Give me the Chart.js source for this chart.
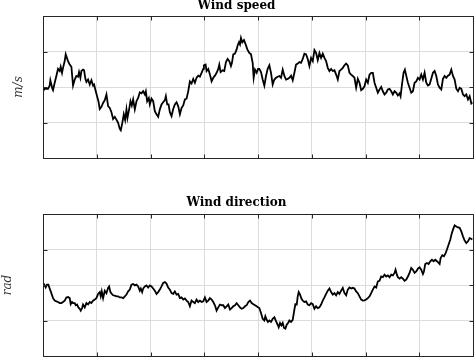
<!DOCTYPE html>
<html><head><meta charset="utf-8">
<script src="https://cdn.jsdelivr.net/npm/chart.js@4"></script>
<style>
html,body{margin:0;padding:0;background:#fff;width:474px;height:357px;overflow:hidden;position:relative}
#w1{position:absolute;left:0;top:-4px;width:474px;height:182px}
#w2{position:absolute;left:0;top:178px;width:474px;height:179px}
canvas{display:block}
</style></head><body>
<div id="w1"><canvas id="c1" width="474" height="182"></canvas></div>
<div id="w2"><canvas id="c2" width="474" height="179"></canvas></div>
<script>
// ---- Wind speed (m/s) ----
const speedTime = [
  0,5,15,20,22,28,30,35,40,45,
  50,53,57,60,65,68,75,80,85,90,
  95,100,105,108,112,115,120,123,127,130,
  135,140,145,150,153,158,162,166,170,175,
  180,185,190,195,200,205,210,215,220,225,
  230,233,238,242,246,250,253,258,262,266,
  270,275,280,285,290,295,300,305,308,312,
  317,320,325,330,335,340,345,350,355,360,
  365,368,372,376,380,385,390,395,400,405,
  410,415,420,425,430,435,440,445,450,455,
  460,465,470,475,480,482,487,490,495,500,
  505,510,515,520,525,528,532,538,543,548,
  553,558,563,566,570,575,580,583,587,590,
  593,597,602,607,612,618,623,628,631,635,
  640,644,
  648,653,658,663,668,673,678,683,688,693,
  698,703,708,713,718,723,728,733,738,743,
  748,753,758,763,768,773,778,783,788,793,
  798,803,808,813,818,823,828,833,838,843,
  848,853,858,863,868,873,878,883,888,893,
  898,903,908,913,918,923,928,933,938,943,
  948,953,958,963,968,973,978,983,988,993,
  998,1003,1008,1013,1018,1023,1028,1033,1038,1043,
  1048,1053,1058,1063,1068,1071,1076,1080,1084,1088,
  1093,1098,1103,1108,1113,1118,1123,1128,1133,1138,
  1143,1148,1153,1158,1163,1168,1173,1178,1183,1188,
  1193,1198,1203,1208,1213,1218,1223,1228,1233,1238,
  1243,1248,1253,1258,1263,1268,1273,1278,1283,1286
];
const speedValues = [
  1.88,1.95,1.95,2.04,2.19,1.95,1.91,2.12,2.31,2.51,
  2.45,2.57,2.40,2.54,2.73,2.92,2.73,2.63,2.57,2.04,
  2.21,2.31,2.29,2.42,2.26,2.45,2.49,2.47,2.23,2.14,
  2.21,2.07,2.19,2.04,2.07,1.88,1.74,1.60,1.38,1.44,
  1.55,1.63,1.79,1.46,1.41,1.29,1.10,1.16,1.08,0.99,
  0.82,0.78,1.01,1.23,1.07,1.37,1.13,1.37,1.60,1.48,
  1.65,1.37,1.60,1.69,1.85,1.82,1.88,1.79,1.88,1.60,
  1.69,1.51,1.67,1.60,1.32,1.23,1.16,1.37,1.51,1.57,
  1.63,1.74,1.51,1.51,1.29,1.18,1.38,1.51,1.57,1.46,
  1.23,1.41,1.48,1.65,1.67,1.88,2.16,2.10,2.23,2.12,
  2.26,2.32,2.29,2.40,2.51,2.61,2.63,2.45,2.51,2.35,
  2.16,2.26,2.32,2.40,2.51,2.63,2.42,2.47,2.45,2.70,
  2.79,2.73,2.59,2.68,2.92,2.94,3.06,3.17,3.26,3.20,
  3.38,3.26,3.32,3.20,3.06,2.96,2.92,2.68,2.26,2.49,
  2.40,2.51,
  2.51,2.42,2.21,2.04,2.31,2.51,2.61,2.40,2.07,2.21,
  2.26,2.29,2.31,2.26,2.49,2.31,2.21,2.23,2.26,2.32,
  2.19,2.40,2.63,2.66,2.70,2.68,2.79,2.94,2.92,2.79,
  2.59,2.82,2.73,3.04,2.96,2.76,2.96,2.82,2.94,2.82,
  2.73,2.54,2.45,2.51,2.45,2.47,2.35,2.21,2.45,2.49,
  2.54,2.61,2.66,2.61,2.40,2.35,2.31,2.26,1.98,2.23,
  2.12,1.91,1.95,2.02,2.21,2.12,2.35,2.40,2.40,2.12,
  1.98,1.84,1.93,2.00,1.88,1.79,1.84,1.93,1.95,1.88,
  1.79,1.88,1.84,1.76,1.82,1.74,2.12,2.40,2.49,2.32,
  2.12,1.98,1.84,1.88,2.12,2.16,2.26,2.21,2.35,2.21,
  2.40,2.12,2.04,2.07,2.23,2.40,2.45,2.31,2.07,1.98,
  1.93,2.23,2.31,2.26,2.32,2.35,2.49,2.31,2.21,1.95,
  1.88,1.98,1.95,1.79,1.74,1.79,1.65,1.74,1.54,1.57
];
// ---- Wind direction (rad) ----
const dirTime = [
  0,4,8,12,16,20,25,30,35,40,
  45,50,55,60,65,70,75,80,83,87,
  90,95,98,102,106,110,113,117,120,125,
  130,135,140,145,150,155,160,165,170,173,
  176,180,185,190,195,198,202,206,210,215,
  220,225,230,235,240,245,250,255,260,265,
  270,275,280,285,290,293,297,300,305,310,
  315,320,325,330,335,340,345,350,355,360,
  365,370,375,380,385,390,395,400,405,410,
  415,420,425,430,435,440,445,450,455,460,
  465,470,475,480,485,490,495,500,505,510,
  515,520,525,530,535,540,545,550,555,560,
  565,570,575,580,585,590,595,600,605,610,
  615,620,625,630,635,640,644,
  648,653,658,663,666,670,674,678,683,688,
  693,698,703,706,710,714,718,722,726,730,
  734,738,743,748,753,756,760,763,766,770,
  774,778,783,788,793,798,803,808,813,818,
  823,828,833,838,843,848,853,858,863,868,
  873,878,883,888,893,898,903,908,913,918,
  923,928,933,938,943,948,953,958,963,968,
  973,978,983,988,993,998,1003,1008,1013,1018,
  1023,1028,1033,1038,1043,1048,1053,1056,1060,1063,
  1068,1073,1078,1083,1088,1093,1098,1103,1108,1113,
  1118,1123,1128,1133,1138,1141,1145,1150,1155,1160,
  1165,1170,1175,1180,1185,1188,1191,1196,1201,1206,
  1210,1215,1220,1224,1228,1233,1238,1243,1248,1253,
  1258,1263,1268,1273,1278,1281,1286
];
const dirValues = [
  1.96,2.01,1.93,2.01,2.01,1.90,1.77,1.63,1.56,1.54,
  1.52,1.49,1.49,1.52,1.56,1.65,1.66,1.63,1.46,1.52,
  1.49,1.49,1.43,1.45,1.37,1.33,1.28,1.35,1.45,1.37,
  1.49,1.45,1.52,1.49,1.56,1.59,1.63,1.75,1.80,1.68,
  1.82,1.63,1.84,1.77,1.92,1.96,1.80,1.75,1.71,1.70,
  1.68,1.68,1.65,1.65,1.63,1.68,1.73,1.82,1.87,2.01,
  2.03,1.99,2.01,1.96,1.84,1.90,1.80,1.90,1.96,1.99,
  1.93,1.99,1.96,1.90,1.84,1.75,1.80,1.87,1.96,2.06,
  2.08,2.04,1.93,1.87,1.77,1.75,1.82,1.73,1.75,1.63,
  1.65,1.59,1.62,1.56,1.52,1.40,1.56,1.52,1.49,1.59,
  1.52,1.56,1.52,1.54,1.65,1.52,1.56,1.63,1.59,1.52,
  1.43,1.28,1.37,1.45,1.43,1.43,1.35,1.40,1.45,1.31,
  1.35,1.40,1.43,1.49,1.43,1.37,1.33,1.35,1.40,1.43,
  1.52,1.56,1.49,1.46,1.43,1.40,1.37,
  1.35,1.21,1.05,1.00,1.12,1.02,0.96,1.00,0.96,1.05,
  1.09,0.98,0.88,0.81,0.93,0.86,0.93,0.79,0.77,0.88,
  0.93,1.00,0.96,1.02,1.31,1.46,1.45,1.68,1.80,1.73,
  1.62,1.56,1.52,1.54,1.45,1.43,1.49,1.46,1.33,1.40,
  1.35,1.37,1.45,1.56,1.65,1.75,1.84,1.90,1.80,1.73,
  1.77,1.71,1.80,1.75,1.84,1.92,1.77,1.71,1.87,1.93,
  1.90,1.92,1.90,1.82,1.77,1.68,1.59,1.56,1.57,1.59,
  1.63,1.68,1.77,1.87,1.96,1.93,2.10,2.12,2.24,2.22,
  2.29,2.24,2.27,2.22,2.29,2.27,2.34,2.43,2.29,2.22,
  2.18,2.22,2.18,2.12,2.15,2.24,2.34,2.48,2.43,2.34,
  2.38,2.46,2.50,2.43,2.31,2.38,2.59,2.62,2.59,2.67,
  2.71,2.67,2.71,2.67,2.62,2.59,2.76,2.84,2.81,2.90,
  3.00,3.14,3.28,3.44,3.56,3.68,3.65,3.62,3.61,3.51,
  3.37,3.25,3.18,3.23,3.32,3.31,3.28
];
const titles = ['Wind speed', 'Wind direction'];
const yLabels = ['m/s', 'rad'];
const timeMax = 1288, timeStep = 161;
const valueMin = 0, valueMax = 4, valueStep = 1;

const framePlugin = {
  id: 'frame',
  afterDraw(chart) {
    const {ctx, chartArea: a, scales: {x, y}} = chart;
    ctx.save();
    ctx.strokeStyle = '#262626';
    ctx.lineWidth = 1;
    const L = Math.round(a.left) + .5, R = Math.round(a.right) + .5;
    const T = Math.round(a.top) + .5, B = Math.round(a.bottom) + .5;
    ctx.strokeRect(L, T, R - L, B - T);
    ctx.beginPath();
    x.ticks.forEach(t => {
      const p = Math.round(x.getPixelForValue(t.value)) + .5;
      ctx.moveTo(p, B); ctx.lineTo(p, B - 4);
      ctx.moveTo(p, T); ctx.lineTo(p, T + 4);
    });
    y.ticks.forEach(t => {
      const p = Math.round(y.getPixelForValue(t.value)) + .5;
      ctx.moveTo(L, p); ctx.lineTo(L + 4, p);
      ctx.moveTo(R, p); ctx.lineTo(R - 4, p);
    });
    ctx.stroke();
    ctx.restore();
  }
};

function makeChart(id, title, ylabel, times, values, tPad, yPad, xH) {
  const pts = times.map((t, i) => ({x: t, y: values[i]}));
  return new Chart(document.getElementById(id), {
    type: 'line',
    data: {datasets: [{data: pts, borderColor: '#000', borderWidth: 1.8, pointRadius: 0, tension: 0, fill: false}]},
    options: {
      responsive: false, animation: false, devicePixelRatio: 1,
      layout: {padding: {left: 0, right: 1, top: 0, bottom: 0}},
      plugins: {
        legend: {display: false}, tooltip: {enabled: false},
        title: {display: true, text: title, color: '#000',
          font: {family: 'DejaVu Serif', size: 12, weight: 'bold', lineHeight: 1.2},
          padding: tPad}
      },
      scales: {
        x: {type: 'linear', min: 0, max: timeMax,
          ticks: {display: false, stepSize: timeStep},
          grid: {color: '#dcdcdc', drawTicks: false, lineWidth: 1},
          border: {display: false},
          afterFit(s) { s.height = xH; }},
        y: {min: valueMin, max: valueMax,
          ticks: {display: false, stepSize: valueStep},
          grid: {color: '#dcdcdc', drawTicks: false, lineWidth: 1},
          border: {display: false},
          title: {display: true, text: ylabel, color: '#3a3a3a',
            font: {family: 'DejaVu Serif', style: 'italic', size: 12, lineHeight: 1.2},
            padding: {top: yPad, bottom: 0}},
          afterFit(s) { s.width = 43; }}
      }
    },
    plugins: [framePlugin]
  });
}
makeChart('c1', titles[0], yLabels[0], speedTime, speedValues, {top: 2.6, bottom: 3.0}, 11.8, 20);
makeChart('c2', titles[1], yLabels[1], dirTime, dirValues, {top: 17.3, bottom: 4.3}, 0.3, 1);
</script>
</body></html>
